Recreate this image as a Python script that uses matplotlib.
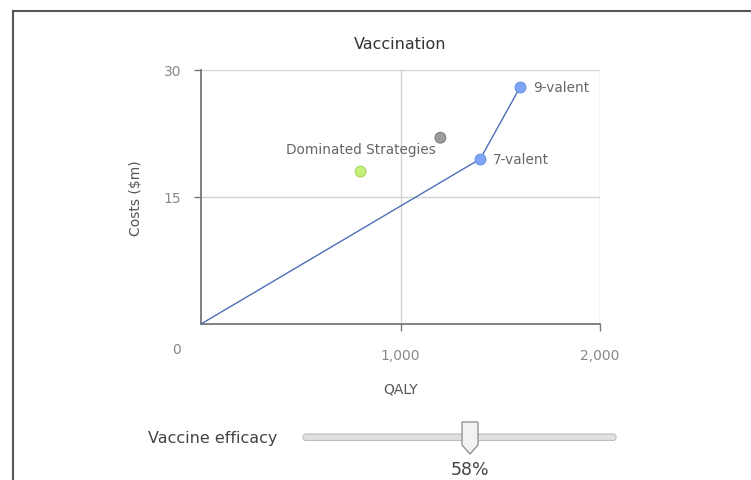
import matplotlib
matplotlib.use("Agg")
import matplotlib.pyplot as plt
from matplotlib.patches import FancyBboxPatch, Polygon
from matplotlib.lines import Line2D

plt.rcParams['font.family'] = ['DejaVu Sans']

# frontier (efficient strategies)
frontier_qaly = [0, 1400, 1600]
frontier_cost = [0, 19.5, 28]
frontier_names = ["", "7-valent", "9-valent"]

# dominated strategies
dom_qaly = [800, 1200]
dom_cost = [18, 22]
dom_colors = ["#c6f07c", "#9a9d9c"]
dom_edges = ["#a9d85c", "#7f8281"]

efficacy = 58
efficacy_min, efficacy_max = 10, 100

W, H = 751, 481
fig = plt.figure(figsize=(W / 100, H / 100), dpi=100)

# outer frame (left and top only)
fig.add_artist(Line2D([12.5 / W, 12.5 / W], [0, 1 - 11.5 / H], color="#555555", lw=1.5))
fig.add_artist(Line2D([12.5 / W, 1], [1 - 11.5 / H, 1 - 11.5 / H], color="#555555", lw=1.5))

ax = fig.add_axes([201 / W, 1 - 325 / H, 399 / W, 254 / H])
ax.set_xlim(0, 2000)
ax.set_ylim(0, 30)
ax.set_xticks([1000, 2000])
ax.set_xticklabels(["1,000", "2,000"])
ax.set_yticks([15, 30])
ax.grid(True, color="#cfd5d5", lw=1)
ax.set_axisbelow(True)
for s in ["top", "right"]:
    ax.spines[s].set_visible(False)
for s in ["left", "bottom"]:
    ax.spines[s].set_color("#777777")
    ax.spines[s].set_linewidth(1.3)
ax.tick_params(colors="#777777", labelcolor="#888888", labelsize=10, length=5, width=1)
ax.tick_params(axis="x", pad=12)
ax.tick_params(axis="y", pad=9)
ax.text(-125, -2.9, "0", color="#888888", fontsize=10, ha="center", va="center")

ax.set_title("Vaccination", fontsize=11.5, color="#333333", pad=16)
ax.set_xlabel("QALY", fontsize=10, color="#555555", labelpad=14)
ax.set_ylabel("Costs ($m)", fontsize=10, color="#555555", labelpad=15)

ax.plot(frontier_qaly, frontier_cost, color="#4c6fb6", lw=1, zorder=3)
ax.scatter(frontier_qaly[1:], frontier_cost[1:], s=60, color="#7ea6f4",
           edgecolors="#6a92e6", linewidths=0.8, zorder=4)
for q, c, n in zip(frontier_qaly[1:], frontier_cost[1:], frontier_names[1:]):
    ax.annotate(n, (q, c), xytext=(9, 0), textcoords="offset points",
                ha="left", va="center", fontsize=9.8, color="#666666")

ax.scatter(dom_qaly, dom_cost, s=60, color=dom_colors, edgecolors=dom_edges,
           linewidths=0.8, zorder=4)
ax.annotate("Dominated Strategies", (dom_qaly[0], dom_cost[0]), xytext=(0, 16),
            textcoords="offset points", ha="center", va="center",
            fontsize=9.8, color="#666666")

# slider
sx0, sx1 = 302, 617
sy0, sy1 = 415, 480
sax = fig.add_axes([sx0 / W, 1 - sy1 / H, (sx1 - sx0) / W, (sy1 - sy0) / H])
sax.set_xlim(efficacy_min, efficacy_max)
sax.set_ylim(sy1, sy0)
sax.axis("off")
upx = (efficacy_max - efficacy_min) / (sx1 - sx0)
track = FancyBboxPatch((efficacy_min + 1 * upx, 435), (efficacy_max - efficacy_min) - 2 * upx, 6.5,
                       boxstyle=f"round,pad=0,rounding_size={3 * upx}",
                       mutation_aspect=1 / upx, facecolor="#e0e0e0",
                       edgecolor="#bcbcbc", lw=0.8, clip_on=False)
sax.add_patch(track)
hw = 8 * upx
handle = Polygon([(efficacy - hw, 423), (efficacy + hw, 423), (efficacy + hw, 446),
                  (efficacy, 455), (efficacy - hw, 446)], closed=True,
                 facecolor="#f2f2f2", edgecolor="#8a8a8a", lw=0.9, clip_on=False)
sax.add_patch(handle)
sax.text(efficacy, 470, f"{efficacy}%", ha="center", va="center", fontsize=12.5, color="#444444")

fig.text(148 / W, 1 - 438 / H, "Vaccine efficacy", ha="left", va="center",
         fontsize=11.5, color="#444444")

fig.savefig("out.png", dpi=100)
